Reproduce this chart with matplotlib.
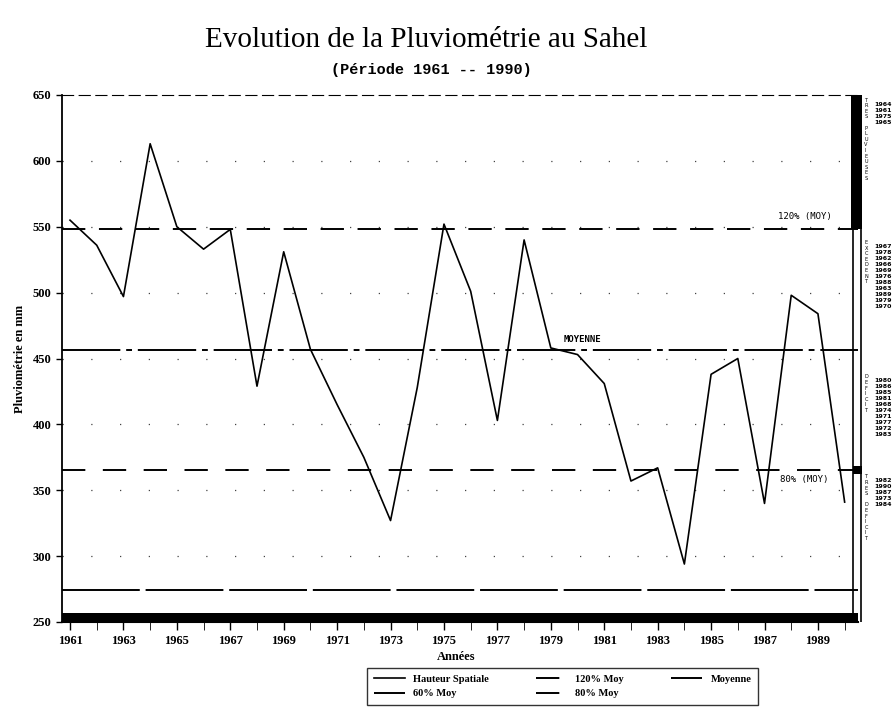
import matplotlib.pyplot as plt
import numpy as np

# pluviometrie annuelle (mm)
annees = list(range(1961, 1991))
hauteur = [555, 536, 497, 613, 550, 533, 548, 429, 531, 457,
           415, 375, 327, 428, 552, 501, 403, 540, 458, 453,
           431, 357, 367, 294, 438, 450, 340, 498, 484, 341]

yticks = [250, 300, 350, 400, 450, 500, 550, 600, 650]
xlabels = list(range(1961, 1990, 2))

groupes_lettres = ["TRES\nPLUVIEUSES", "EXCEDENT", "DEFICIT", "TRES\nDEFICIT"]

moy = np.mean(hauteur)
niveaux = {"120% Moy": 1.2 * moy, "Moyenne": moy, "80% Moy": 0.8 * moy, "60% Moy": 0.6 * moy}

plt.rcParams['font.family'] = ['Liberation Serif', 'DejaVu Serif']

fig = plt.figure(figsize=(8.93, 7.17), dpi=100)
ax = fig.add_axes([62 / 893, 1 - 622 / 717, (858 - 62) / 893, (622 - 95) / 717])

# grille pointillee
for v in yticks[1:-1]:
    ax.axhline(v, color='#444444', lw=0.9, ls=(0, (1, 22)), zorder=1)

l_h, = ax.plot(annees, hauteur, color='black', lw=1.2, label="Hauteur Spatiale", zorder=3)
l_120 = ax.axhline(niveaux["120% Moy"], color='black', lw=1.4, ls=(0, (12, 7)), label="120% Moy")
l_moy = ax.axhline(niveaux["Moyenne"], color='black', lw=1.4, ls=(0, (30, 3, 3, 3)), label="Moyenne")
l_60 = ax.axhline(niveaux["60% Moy"], color='black', lw=1.4, ls=(0, (40, 3)), label="60% Moy")
l_80 = ax.axhline(niveaux["80% Moy"], color='black', lw=1.4, ls=(0, (12, 9)), label="80% Moy")

# barre noire du bas (photocopie)
ax.axhspan(250, 257, color='black', lw=0, zorder=4)

ax.text(1988.5, niveaux["120% Moy"] + 6, "120% (MOY)", family='DejaVu Sans Mono',
        fontsize=6.5, ha='center', va='bottom')
ax.text(1980.2, moy + 4, "MOYENNE", family='DejaVu Sans Mono', fontsize=6.5,
        fontweight='bold', ha='center', va='bottom')
ax.text(1988.5, niveaux["80% Moy"] - 4, "80% (MOY)", family='DejaVu Sans Mono',
        fontsize=6.5, ha='center', va='top')

ax.set_xlim(1960.7, 1990.5)
ax.set_ylim(250, 650)
ax.set_yticks(yticks)
ax.set_xticks(annees, minor=True)
ax.set_xticks(xlabels)
ax.tick_params(axis='both', labelsize=9, width=1, direction='out')
ax.tick_params(axis='x', which='both', length=6)
ax.tick_params(axis='y', length=4)
for lbl in ax.get_xticklabels() + ax.get_yticklabels():
    lbl.set_fontweight('bold')

ax.set_ylabel("Pluviométrie en mm", fontsize=9, fontweight='bold', labelpad=5)
ax.set_xlabel("Années", fontsize=9, fontweight='bold', labelpad=3)
ax.xaxis.set_label_coords(0.495, -0.055)

ax.spines['top'].set_linestyle((0, (10, 5)))
ax.spines['top'].set_linewidth(0.8)
ax.spines['right'].set_visible(False)
ax.spines['left'].set_linewidth(1.3)
ax.spines['bottom'].set_linewidth(1.5)

# colonne de droite (classement des annees)
side = fig.add_axes([851 / 893, 1 - 622 / 717, 42 / 893, (622 - 95) / 717])
side.set_xlim(0, 1)
side.set_ylim(250, 650)
side.axis('off')
side.fill_between([0, 0.26], niveaux["120% Moy"], 652, color='black', lw=0)
side.plot([0.05, 0.05], [250, niveaux["120% Moy"]], color='black', lw=1.2)
side.plot([0.24, 0.24], [250, niveaux["120% Moy"]], color='black', lw=1.2)
side.fill_between([0.05, 0.26], niveaux["80% Moy"] - 3, niveaux["80% Moy"] + 3, color='black', lw=0)

bornes = [np.inf, niveaux["120% Moy"], moy, niveaux["80% Moy"], -np.inf]
hauts = [648, 540, 438, 362]
for i in range(4):
    ans = [a for a, h in zip(annees, hauteur) if bornes[i + 1] <= h < bornes[i]]
    ans = sorted(ans, key=lambda a: -hauteur[annees.index(a)])
    side.text(0.32, hauts[i], "\n".join(c for c in groupes_lettres[i].replace("\n", " ")),
              fontsize=3.6, family='DejaVu Sans', va='top', ha='left', linespacing=1.15)
    side.text(0.55, hauts[i] - 3, "\n".join(str(a) for a in ans), fontsize=4.5,
              family='DejaVu Sans', fontweight='bold', va='top', ha='left', linespacing=1.25)

fig.text(0.477, 0.944, "Evolution de la Pluviométrie au Sahel", fontsize=21,
         family='Liberation Serif', ha='center', va='center')
fig.text(0.483, 0.902, "(Période 1961 -- 1990)", fontsize=11, family='Liberation Mono',
         fontweight='bold', ha='center', va='center')

# ordre colonne par colonne : H / 60%, 120% / 80%, Moyenne
handles = [l_h, l_60, l_120, l_80, l_moy]
leg = fig.legend(handles, [h.get_label() for h in handles], loc='upper center',
                 bbox_to_anchor=(0.63, 0.068), ncol=3, fontsize=7.5,
                 frameon=True, fancybox=False, edgecolor='black', handlelength=3,
                 columnspacing=4.5, borderaxespad=0, borderpad=0.6)
for t in leg.get_texts():
    t.set_fontweight('bold')

fig.savefig("out.png", dpi=100)
